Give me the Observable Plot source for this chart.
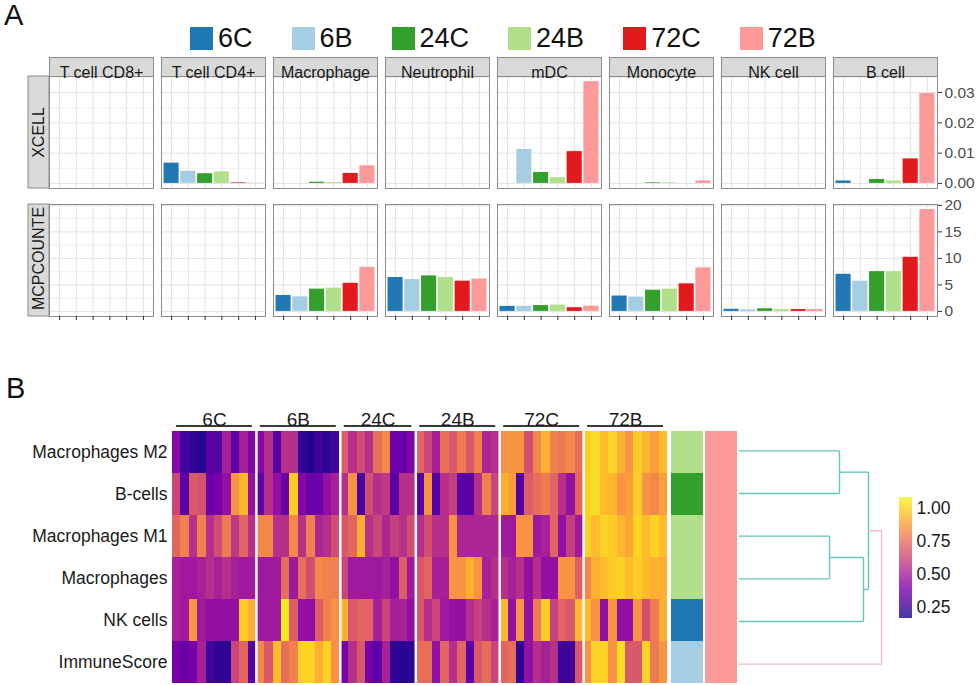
<!DOCTYPE html>
<html><head><meta charset="utf-8">
<script src="https://cdn.jsdelivr.net/npm/d3@7"></script>
<script src="https://cdn.jsdelivr.net/npm/@observablehq/plot@0.6"></script>
<style>
body{margin:0;background:#fff;font-family:"Liberation Sans",Arial,sans-serif;}
#root{position:relative;width:976px;height:685px;overflow:hidden;background:#fff;}
.abs{position:absolute;}
.plabel{position:absolute;font-size:29px;line-height:1.1;color:#111;}
.lg-swatches{font-size:27px !important;font-family:"Liberation Sans",Arial,sans-serif !important;margin:0 !important;color:#111;}
.lg-swatch{margin-right:39px !important;}
.lg-swatch > svg{margin-right:5px !important;}
</style></head>
<body><div id="root"></div>
<script>
// ---------------- DATA ----------------
const groups = ["6C","6B","24C","24B","72C","72B"];
const groupColors = ["#1f78b4","#a6cee3","#33a02c","#b2df8a","#e31a1c","#fb9a99"];
const cellTypes = ["T cell CD8+","T cell CD4+","Macrophage","Neutrophil","mDC","Monocyte","NK cell","B cell"];
// XCELL scores, one array per cell type (order = groups)
const xcell = [
  [0,0,0,0,0,0],
  [0.0067,0.0040,0.0032,0.0038,0.0002,0.0001],
  [0,0,0.0004,0.0003,0.0033,0.0058],
  [0,0,0,0,0,0],
  [0,0.0112,0.0036,0.0019,0.0105,0.0336],
  [0,0,0.0002,0.0002,0,0.0008],
  [0,0,0,0,0,0],
  [0.0008,0,0.0013,0.0008,0.0081,0.0297]
];
// MCPCOUNTER scores
const mcp = [
  [0,0,0,0,0,0],
  [0,0,0,0,0,0],
  [3.0,2.75,4.2,4.4,5.3,8.3],
  [6.4,6.0,6.7,6.4,5.7,6.1],
  [0.95,0.95,1.1,1.2,0.7,1.0],
  [2.9,2.7,4.0,4.2,5.2,8.2],
  [0.4,0.3,0.5,0.35,0.35,0.35],
  [7.0,5.7,7.5,7.5,10.2,19.2]
];
const rowStrips = ["XCELL","MCPCOUNTE"];
const xcellTicks = [0,0.01,0.02,0.03];
const xcellMinor = [0.005,0.015,0.025,0.035];
const mcpTicks = [0,5,10,15,20];
const mcpMinor = [2.5,7.5,12.5,17.5];

// Heatmap (panel B)
const heatRows = ["Macrophages M2","B-cells","Macrophages M1","Macrophages","NK cells","ImmuneScore"];
const groupSizes = [10,10,9,10,10,10];
const heatM2 = [0.42,0.25,0.22,0.2,0.32,0.3,0.5,0.32,0.5,0.4,
  0.42,0.55,0.3,0.55,0.55,0.22,0.2,0.25,0.22,0.25,
  0.7,0.55,0.65,0.55,0.75,0.82,0.35,0.35,0.4,
  0.72,0.62,0.5,0.75,0.68,0.78,0.68,0.8,0.52,0.55,
  0.85,0.85,0.85,0.65,0.82,0.92,0.8,0.78,0.82,0.75,
  1.0,1.02,0.95,1.0,0.92,0.85,0.98,0.93,0.88,0.95];
const heatB = [0.62,0.32,0.68,0.66,0.35,0.38,0.45,0.85,0.93,0.45,
  0.32,0.55,0.45,0.35,0.98,0.42,0.35,0.35,0.45,0.5,
  0.55,0.85,0.28,0.65,0.55,0.58,0.32,0.55,0.55,
  0.3,0.85,0.3,0.55,0.6,0.32,0.32,0.55,0.8,0.62,
  0.92,0.88,0.3,0.7,0.75,0.78,0.72,0.55,0.45,0.72,
  1.0,1.02,0.95,0.93,0.85,0.88,0.98,0.85,0.82,0.88];
const heatM1 = [0.72,0.8,0.55,0.8,0.55,0.65,0.78,0.58,0.72,0.55,
  0.82,0.82,0.55,0.55,0.82,0.55,0.8,0.52,0.55,0.65,
  0.68,0.72,0.92,0.55,0.62,0.52,0.6,0.55,0.65,
  0.55,0.65,0.55,0.55,0.85,0.52,0.52,0.52,0.52,0.52,
  0.48,0.48,0.85,0.85,0.48,0.5,0.72,0.45,0.6,0.48,
  1.0,0.95,1.0,0.98,0.93,0.9,1.0,0.95,1.0,0.95];
const heatMac = [0.5,0.48,0.48,0.5,0.55,0.5,0.55,0.5,0.48,0.48,
  0.48,0.48,0.48,0.75,0.48,0.75,0.65,0.82,0.8,0.8,
  0.62,0.48,0.48,0.48,0.48,0.5,0.45,0.7,0.48,
  0.68,0.72,0.5,0.5,0.85,0.85,0.92,0.85,0.5,0.55,
  0.55,0.5,0.55,0.45,0.55,0.45,0.45,0.85,0.85,0.7,
  0.82,0.92,0.95,0.98,1.0,0.95,0.98,0.95,0.92,0.92];
const heatNK = [0.5,0.48,0.85,0.48,0.45,0.45,0.45,0.45,0.98,0.92,
  0.48,0.48,0.48,1.05,0.7,0.45,0.45,0.7,0.8,0.85,
  0.92,0.68,0.72,0.72,0.5,0.62,0.5,0.5,0.45,
  0.68,0.55,0.62,0.48,0.45,0.45,0.55,0.6,0.55,0.5,
  0.95,0.45,0.85,0.45,0.78,0.98,0.6,0.72,0.68,0.95,
  0.95,0.85,0.45,0.85,0.45,0.45,0.85,0.65,0.78,0.92];
const heatImmune = [0.38,0.35,0.38,0.5,0.25,0.22,0.22,0.62,0.72,0.3,
  0.82,0.68,0.95,0.75,0.8,1.0,1.0,0.92,1.0,0.85,
  0.38,0.55,0.68,0.38,0.32,0.5,0.22,0.2,0.22,
  0.75,0.75,0.45,0.72,0.55,0.72,0.32,0.68,0.75,0.62,
  0.72,0.75,0.22,0.45,0.55,0.5,0.55,0.25,0.25,0.68,
  0.85,1.0,1.0,0.85,1.02,0.68,0.68,1.0,0.78,0.85];
const heatValues = [heatM2, heatB, heatM1, heatMac, heatNK, heatImmune];
// annotation columns
const annotCol1 = ["24B","24C","24B","24B","6C","6B"];
const annotCol2 = ["72B","72B","72B","72B","72B","72B"];
// dendrogram merges: [childA, childB, height]; "#k" = k-th merge
const dendroMerges = [
  ["Macrophages M2","B-cells",1.01],
  ["Macrophages M1","Macrophages",0.91],
  ["#2","NK cells",1.25],
  ["#1","#3",1.30],
  ["#4","ImmuneScore",1.43]
];
const colorTicks = [0.25,0.5,0.75,1.0];
const colorDomain = [0.167,1.083];

// ---------------- DRAW ----------------
const root = document.getElementById("root");
const FONT = "Liberation Sans, Arial, sans-serif";
const baseStyle = {background: "transparent", overflow: "visible", fontFamily: FONT};
function place(el, left, top) { el.classList.add("abs"); el.style.left = left + "px"; el.style.top = top + "px"; root.appendChild(el); return el; }
function label(t, left, top) { const d = document.createElement("div"); d.className = "plabel"; d.textContent = t; d.style.left = left + "px"; d.style.top = top + "px"; root.appendChild(d); }

label("A", 4, 0);
label("B", 6, 373);

// Legend
const leg = Plot.legend({color: {domain: groups, range: groupColors}, legend: "swatches", swatchSize: 23, className: "lg"});
place(leg, 190, 22);

const facetW = 104, facetGap = 8, plotH = 112;
function barRow(values, yDomain, ticks, minor, fmt, strip, opts) {
  const data = cellTypes.flatMap((c, i) => groups.map((g, j) => ({cell: c, group: g, value: values[i][j]})));
  const yMid = (yDomain[0] + yDomain[1]) / 2;
  const marks = [
    Plot.ruleY(minor, {stroke: "#f0f0f0"}),
    Plot.gridY({ticks, stroke: "#e3e3e3", strokeOpacity: 1}),
    Plot.gridX({stroke: "#e3e3e3", strokeOpacity: 1}),
    Plot.barY(data, {fx: "cell", x: "group", y: "value", fill: "group"}),
    Plot.frame({stroke: "#8c8c8c"}),
    Plot.rect([cellTypes[0]], {fx: d => d, insetLeft: -21, insetRight: facetW, fill: "#d9d9d9", stroke: "#8c8c8c"}),
    Plot.text([strip], {fx: () => cellTypes[0], y: () => yMid, text: d => d, frameAnchor: "left", textAnchor: "middle", rotate: -90, dx: -10.5, dy: opts.stripDy || 0, fontSize: 16, fill: "#1a1a1a"}),
    Plot.axisY({anchor: "right", ticks, tickFormat: fmt, tickSize: 4, tickPadding: 3, fontSize: 15.5, fill: "#4d4d4d", stroke: "#333", label: null})
  ];
  if (opts.strips) {
    marks.push(Plot.frame({fill: "#d9d9d9", stroke: "#8c8c8c", insetTop: -19, insetBottom: plotH}));
    marks.push(Plot.text(cellTypes, {fx: d => d, text: d => d, frameAnchor: "top", dy: -9.5, fontSize: 16, fill: "#1a1a1a"}));
  }
  if (opts.xticks) {
    marks.push(Plot.axisX({tickFormat: () => "", tickSize: 4, stroke: "#333", label: null}));
  }
  return Plot.plot({
    width: 976, height: opts.marginTop + plotH + opts.marginBottom,
    marginTop: opts.marginTop, marginBottom: opts.marginBottom, marginLeft: 49, marginRight: 39,
    style: baseStyle,
    fx: {domain: cellTypes, paddingInner: facetGap / (facetW + facetGap), paddingOuter: 0, round: false, axis: null, label: null},
    x: {domain: groups, paddingInner: 0.1, paddingOuter: 0.15, round: false, axis: null},
    y: {domain: yDomain, axis: null},
    color: {domain: groups, range: groupColors},
    marks
  });
}
place(barRow(xcell, [-0.00168, 0.0353], xcellTicks, xcellMinor, ".2f", rowStrips[0], {strips: true, marginTop: 26, marginBottom: 4}), 0, 50);
place(barRow(mcp, [-0.96, 20.16], mcpTicks, mcpMinor, "d", rowStrips[1], {xticks: true, marginTop: 10, marginBottom: 10, stripDy: -2}), 0, 194);

// Heatmap
const cum = [0]; groupSizes.forEach(s => cum.push(cum[cum.length - 1] + s));
const nCols = cum[cum.length - 1];
const heatData = heatRows.flatMap((r, i) => heatValues[i].map((v, j) => ({row: r, col: j, v})));
const groupSpans = groups.map((g, i) => ({g, start: cum[i], end: cum[i + 1]}));
const hmTop = 34, hmH = 256;
const heat = Plot.plot({
  width: 672, height: hmTop + hmH, marginTop: hmTop, marginBottom: 0, marginLeft: 172, marginRight: 5,
  style: baseStyle,
  x: {domain: [0, nCols], axis: null},
  y: {domain: heatRows, padding: 0, axis: null},
  color: {type: "linear", scheme: "plasma", domain: colorDomain},
  marks: [
    Plot.barX(heatData, {x1: "col", x2: d => d.col + 1, y: "row", fill: "v", shapeRendering: "crispEdges"}),
    Plot.ruleX(cum.slice(1, -1), {stroke: "white", strokeWidth: 2.5}),
    Plot.rect(groupSpans, {x1: "start", x2: "end", insetLeft: 4, insetRight: 4, insetTop: -4, insetBottom: hmH + 2, fill: "#3a3a3a"}),
    Plot.text(groupSpans, {x: d => (d.start + d.end) / 2, text: "g", frameAnchor: "top", dy: -17, fontSize: 19, fill: "#1a1a1a"}),
    Plot.axisY({tickSize: 0, tickPadding: 5, fontSize: 17.5, fill: "#1a1a1a", label: null})
  ]
});
place(heat, 0, 395);

// Annotation columns
const annotData = heatRows.flatMap((r, i) => [{row: r, col: "c1", g: annotCol1[i]}, {row: r, col: "c2", g: annotCol2[i]}]);
const annot = Plot.plot({
  width: 66, height: hmH, margin: 0,
  style: baseStyle,
  x: {domain: ["c1", "c2"], paddingInner: 2 / 34, paddingOuter: 0, axis: null},
  y: {domain: heatRows, padding: 0, axis: null},
  color: {domain: groups, range: groupColors},
  marks: [Plot.cell(annotData, {x: "col", y: "row", fill: "g", inset: 0})]
});
place(annot, 671, 395 + hmTop);

// Dendrogram
const nodes = {};
heatRows.forEach((r, i) => nodes[r] = {y: i + 0.5, h: 0});
const segs = [];
dendroMerges.forEach(([a, b, h], k) => {
  const A = nodes[a], B = nodes[b];
  const last = k === dendroMerges.length - 1;
  const col = last ? "p" : "t";
  segs.push({x1: A.h, y1: A.y, x2: h, y2: A.y, c: col});
  segs.push({x1: B.h, y1: B.y, x2: h, y2: B.y, c: col});
  segs.push({x1: h, y1: A.y, x2: h, y2: B.y, c: col});
  nodes["#" + (k + 1)] = {y: (A.y + B.y) / 2, h};
});
const dendro = Plot.plot({
  width: 238, height: hmH, margin: 0,
  style: baseStyle,
  x: {domain: [0, 2.38], axis: null},
  y: {domain: [0, heatRows.length], reverse: true, axis: null},
  color: {domain: ["t", "p"], range: ["#63c6bd", "#f2bcc6"]},
  marks: [Plot.link(segs, {x1: "x1", y1: "y1", x2: "x2", y2: "y2", stroke: "c", strokeWidth: 1.4})]
});
place(dendro, 738, 395 + hmTop);

// Colour bar
const stops = d3.range(colorDomain[0], colorDomain[1], 0.004);
const cbar = Plot.plot({
  width: 96, height: 121, marginTop: 0, marginBottom: 0, marginLeft: 19, marginRight: 64,
  style: baseStyle,
  x: {domain: [0, 1], axis: null},
  y: {domain: colorDomain, axis: null},
  color: {type: "linear", scheme: "plasma", domain: colorDomain},
  marks: [
    Plot.rect(stops, {x1: 0, x2: 1, y1: d => d, y2: d => Math.min(d + 0.0045, colorDomain[1]), fill: d => d}),
    Plot.axisY({anchor: "right", ticks: colorTicks, tickFormat: ".2f", tickSize: 0, tickPadding: 4, fontSize: 17.5, fill: "#1a1a1a", label: null})
  ]
});
place(cbar, 880, 497);
</script></body></html>
